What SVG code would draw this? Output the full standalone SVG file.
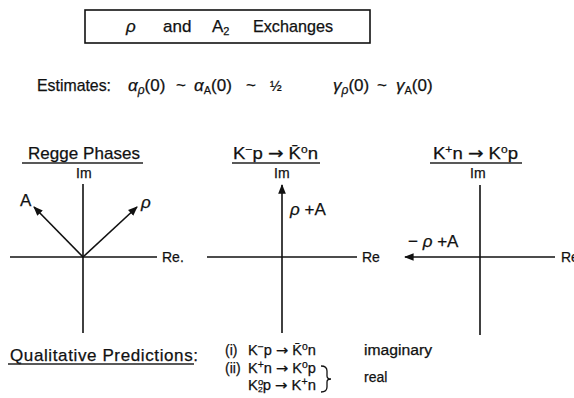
<svg xmlns="http://www.w3.org/2000/svg" width="574" height="398" viewBox="0 0 574 398">
<defs>
<style>
text{font-family:"Liberation Sans","DejaVu Sans",sans-serif;fill:#111;stroke:#111;stroke-width:0.25;}
.t{font-size:17px;}
.m{font-size:17px;}
.s{font-size:14px;}
.p{font-size:14px;}
.g{font-style:italic;}
.arw{font-family:"DejaVu Sans",sans-serif;}
.ax{stroke:#111;stroke-width:1.6;fill:none;}
.ul{stroke:#222;stroke-width:1.3;}
.ar{stroke:#111;stroke-width:1.6;fill:none;marker-end:url(#ah);}
</style>
<marker id="ah" viewBox="0 0 10 10" refX="9" refY="5" markerWidth="6" markerHeight="6" orient="auto" markerUnits="strokeWidth">
<path d="M0,1 L10,5 L0,9 z" fill="#111"/>
</marker>
</defs>
<rect width="574" height="398" fill="#fff"/>

<g id="title">
<rect x="85" y="10" width="285" height="33" fill="none" stroke="#111" stroke-width="1.6"/>
<text class="t g" x="126" y="32">ρ</text>
<text class="t" x="163" y="32">and</text>
<text class="t" x="212" y="32">A<tspan font-size="11" dy="3">2</tspan></text>
<text class="t" x="253" y="32" textLength="80" lengthAdjust="spacingAndGlyphs">Exchanges</text>
</g>

<g id="estimates">
<text class="m" x="37" y="91" textLength="74" lengthAdjust="spacingAndGlyphs">Estimates:</text>
<text class="m" x="128" y="91"><tspan class="g">α</tspan><tspan class="g" font-size="12" dy="3">ρ</tspan><tspan dy="-3">(0)</tspan></text>
<text class="m" x="176" y="91">~</text>
<text class="m" x="194" y="91"><tspan class="g">α</tspan><tspan font-size="11" dy="3">A</tspan><tspan dy="-3">(0)</tspan></text>
<text class="m" x="246" y="91">~</text>
<text class="s" x="270" y="91">½</text>
<text class="m" x="333" y="91"><tspan class="g">γ</tspan><tspan class="g" font-size="12" dy="3">ρ</tspan><tspan dy="-3">(0)</tspan></text>
<text class="m" x="377" y="91">~</text>
<text class="m" x="396" y="91"><tspan class="g">γ</tspan><tspan font-size="11" dy="3">A</tspan><tspan dy="-3">(0)</tspan></text>
</g>

<g id="regge-phases">
<text class="t" x="28" y="159" textLength="112" lengthAdjust="spacing">Regge Phases</text>
<line class="ul" x1="22" y1="163" x2="143" y2="163"/>
<text class="s" x="76" y="178">Im</text>
<line class="ax" x1="83" y1="184" x2="83" y2="333"/>
<line class="ax" x1="10" y1="257" x2="157" y2="257"/>
<text class="s" x="162" y="262">Re.</text>
<text class="t" x="20" y="206">A</text>
<text class="t g" x="141" y="208">ρ</text>
</g>

<g id="kminus-panel">
<text class="t" x="233" y="159" textLength="85" lengthAdjust="spacingAndGlyphs">K<tspan font-size="11" dy="-6">−</tspan><tspan dy="6">p </tspan><tspan class="arw">→</tspan> K̄<tspan font-size="11" dy="-6">o</tspan><tspan dy="6">n</tspan></text>
<line class="ul" x1="232" y1="163" x2="320" y2="163"/>
<text class="s" x="274" y="178">Im</text>
<line class="ax" x1="282" y1="257" x2="282" y2="333"/>
<line class="ax" x1="207" y1="257" x2="357" y2="257"/>
<text class="s" x="362" y="262">Re</text>
<text class="t" x="290" y="215"><tspan class="g">ρ</tspan> +A</text>
</g>

<g id="kplus-panel">
<text class="t" x="433" y="159" textLength="85" lengthAdjust="spacingAndGlyphs">K<tspan font-size="11" dy="-6">+</tspan><tspan dy="6">n </tspan><tspan class="arw">→</tspan> K<tspan font-size="11" dy="-6">o</tspan><tspan dy="6">p</tspan></text>
<line class="ul" x1="430" y1="163" x2="522" y2="163"/>
<text class="s" x="470" y="178">Im</text>
<line class="ax" x1="480" y1="185" x2="480" y2="335"/>
<line class="ax" x1="480" y1="257" x2="555" y2="257"/>
<text class="s" x="561" y="262">Re</text>
<text class="t" x="408" y="247">− <tspan class="g">ρ</tspan> +A</text>
</g>

<g id="connectors">
<line class="ar" x1="83" y1="257" x2="34" y2="207"/>
<line class="ar" x1="83" y1="257" x2="137" y2="207"/>
<line class="ar" x1="282" y1="257" x2="282" y2="185"/>
<line class="ar" x1="480" y1="257" x2="405" y2="257"/>
</g>

<g id="predictions">
<text class="t" x="10" y="361" textLength="188" lengthAdjust="spacing">Qualitative Predictions:</text>
<line class="ul" x1="8" y1="364" x2="194" y2="364"/>
<text class="p" x="225" y="355">(i)</text>
<text class="p" x="248" y="355" textLength="68" lengthAdjust="spacingAndGlyphs">K<tspan font-size="10" dy="-5">−</tspan><tspan dy="5">p </tspan><tspan class="arw">→</tspan> K̄<tspan font-size="10" dy="-5">o</tspan><tspan dy="5">n</tspan></text>
<text class="p" x="364" y="355" textLength="68" lengthAdjust="spacingAndGlyphs">imaginary</text>
<text class="p" x="225" y="373">(ii)</text>
<text class="p" x="248" y="373" textLength="68" lengthAdjust="spacingAndGlyphs">K<tspan font-size="10" dy="-5">+</tspan><tspan dy="5">n </tspan><tspan class="arw">→</tspan> K<tspan font-size="10" dy="-5">o</tspan><tspan dy="5">p</tspan></text>
<text class="p" x="248" y="390" textLength="68" lengthAdjust="spacingAndGlyphs">K<tspan font-size="9" dy="-5">o</tspan><tspan font-size="8" dx="-5" dy="7">2</tspan><tspan dy="-2">p </tspan><tspan class="arw">→</tspan> K<tspan font-size="10" dy="-5">+</tspan><tspan dy="5">n</tspan></text>
<path d="M321,366 Q327,366 327,371 L327,376 Q327,379 331,379 Q327,379 327,382 L327,387 Q327,392 321,392" fill="none" stroke="#111" stroke-width="1.3"/>
<text class="p" x="364" y="382">real</text>
</g>
</svg>
